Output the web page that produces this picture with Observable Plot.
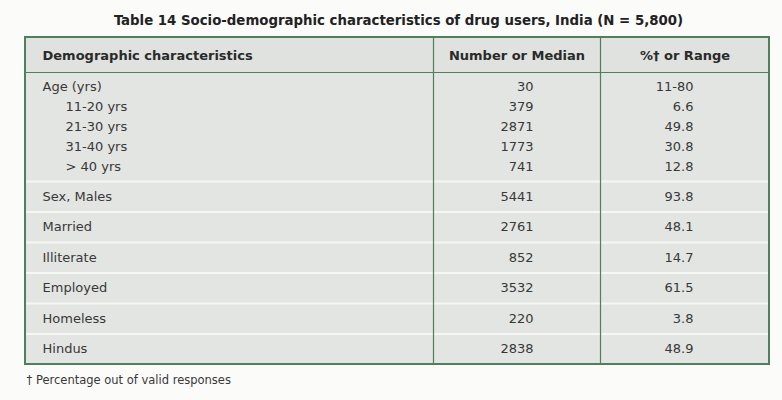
<!DOCTYPE html>
<html>
<head>
<meta charset="utf-8">
<script src="https://cdn.jsdelivr.net/npm/d3@7"></script>
<script src="https://cdn.jsdelivr.net/npm/@observablehq/plot@0.6"></script>
<style>
  html, body { margin: 0; padding: 0; background: #fbfbfa; }
  #chart svg { display: block; }
</style>
</head>
<body>
<div id="chart"></div>
<script>
// ---------- data ----------
const title = "Table 14 Socio-demographic characteristics of drug users, India (N = 5,800)";
const headers = ["Demographic characteristics", "Number or Median", "%\u2020 or Range"];
const labels = ["Age (yrs)", "11-20 yrs", "21-30 yrs", "31-40 yrs", "> 40 yrs",
  "Sex, Males", "Married", "Illiterate", "Employed", "Homeless", "Hindus"];
const numbers = ["30", "379", "2871", "1773", "741", "5441", "2761", "852", "3532", "220", "2838"];
const percents = ["11-80", "6.6", "49.8", "30.8", "12.8", "93.8", "48.1", "14.7", "61.5", "3.8", "48.9"];
const levels = [0, 1, 1, 1, 1, 0, 0, 0, 0, 0, 0];   // indentation level
const groups = [0, 0, 0, 0, 0, 1, 2, 3, 4, 5, 6];   // table row each line belongs to
const footnote = "\u2020 Percentage out of valid responses";

// ---------- layout ----------
const L = 25, R = 769, C1 = 433, C2 = 600;          // table edges and column dividers
const T = 37, H = 72, B = 364;                        // top, header bottom, bottom
const ageBottom = 181, lineStep = 20, firstLine = 86;
const nGroups = d3.max(groups);
const rowH = (B - ageBottom) / nGroups;
const labelX = [42, 65];
const numX = 533, pctX = 693;

const rows = labels.map((label, i) => {
  const g = groups[i];
  const lineInGroup = groups.slice(0, i).filter(x => x === g).length;
  const y = g === 0 ? firstLine + lineInGroup * lineStep : ageBottom + (g - 1) * rowH + rowH / 2;
  return {label, number: numbers[i], pct: percents[i], x: labelX[levels[i]], y};
});
const seps = d3.range(0, nGroups).map(g => ({y: ageBottom + g * rowH}));

const green = "#4f7f5d";
const ink = "#383838";

const chart = Plot.plot({
  width: 782, height: 400,
  margin: 0,
  x: {type: "identity", axis: null},
  y: {type: "identity", axis: null},
  style: {fontFamily: "'DejaVu Sans', Verdana, sans-serif", background: "#fbfbfa"},
  marks: [
    // table background
    Plot.rect([{}], {x1: L, x2: R, y1: T, y2: B, fill: "#e3e5e2"}),
    Plot.rect([{}], {x1: L, x2: R, y1: T, y2: H, fill: "#dfe2df"}),
    // white row separators
    Plot.ruleY(seps, {y: "y", x1: L, x2: R, stroke: "#f6f7f5", strokeWidth: 2}),
    // column dividers
    Plot.ruleX([C1, C2], {y1: T, y2: B, stroke: green, strokeWidth: 1.2}),
    // header bottom
    Plot.ruleY([H], {x1: L, x2: R, stroke: green, strokeWidth: 1.2}),
    // border
    Plot.rect([{}], {x1: L, x2: R, y1: T, y2: B, fill: "none", stroke: green, strokeWidth: 2}),
    // title
    Plot.text([title], {x: 398, y: 20, text: d => d, fontWeight: "bold", fontSize: 14.8,
      fontFamily: "'DejaVu Sans Condensed', 'DejaVu Sans', sans-serif", fill: "#222", textAnchor: "middle"}),
    // header
    Plot.text([headers[0]], {x: 42, y: 55, text: d => d, textAnchor: "start", fontWeight: "bold", fontSize: 13, fill: "#2a2a2a"}),
    Plot.text(headers.slice(1), {x: (d, i) => i === 0 ? (C1 + C2) / 2 : (C2 + R) / 2, y: 55, text: d => d,
      textAnchor: "middle", fontWeight: "bold", fontSize: 13, fill: "#2a2a2a"}),
    // body
    Plot.text(rows, {x: "x", y: "y", text: "label", textAnchor: "start", fontSize: 13, fill: ink}),
    Plot.text(rows, {x: numX, y: "y", text: "number", textAnchor: "end", fontSize: 13, fill: ink}),
    Plot.text(rows, {x: pctX, y: "y", text: "pct", textAnchor: "end", fontSize: 13, fill: ink}),
    // footnote
    Plot.text([footnote], {x: 26, y: 380, text: d => d, textAnchor: "start", fontSize: 11.5, fill: ink})
  ]
});
document.getElementById("chart").append(chart);
</script>
</body>
</html>
